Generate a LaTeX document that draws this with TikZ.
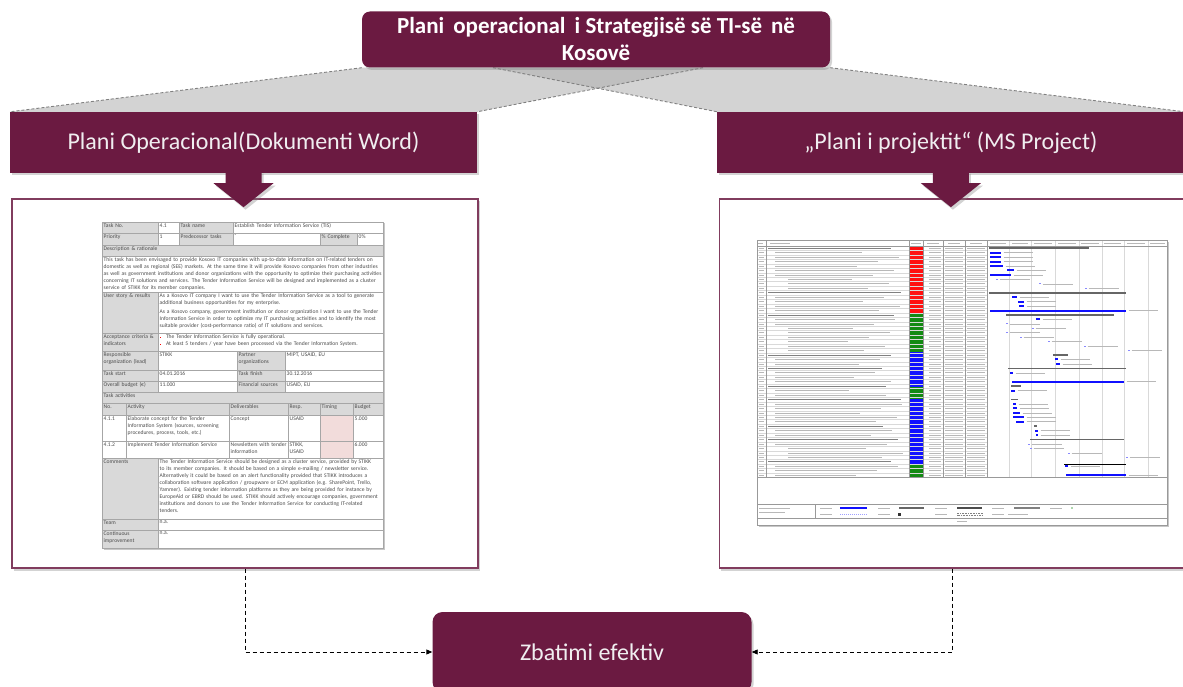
\documentclass[tikz,border=0pt]{standalone}
\usepackage{fontspec}
\setmainfont{Carlito}
\usetikzlibrary{arrows.meta,positioning,shadows,calc,backgrounds}
\hyphenpenalty=10000
\exhyphenpenalty=10000

\definecolor{plum}{HTML}{6B1A41}
\definecolor{bannertext}{HTML}{F0EEF0}
\definecolor{calloutgray}{HTML}{D3D3D3}
\definecolor{overlapgray}{HTML}{BFBFBF}
\definecolor{edgegray}{HTML}{808080}
\definecolor{tabgray}{HTML}{D9D9D9}
\definecolor{tabline}{HTML}{A6A6A6}
\definecolor{tabpink}{HTML}{F2DCDB}
\definecolor{gred}{HTML}{FF1010}
\definecolor{ggreen}{HTML}{138A13}
\definecolor{gblue}{HTML}{1010FF}

% one table cell of the Word thumbnail: x1 y1 x2 y2 fill text
\newcommand{\tcell}[6]{%
  \filldraw[fill=#5,draw=tabline,line width=0.4pt] (#1,#2) rectangle (#3,#4);
  \pgfmathsetmacro\cellw{#3-#1-3}
  \node[celltxt,text width=\cellw pt] at (#1+1.5,#2+1.4) {#6};}
\newcommand{\rbul}{\textcolor{red}{\rule[0.5pt]{1.3pt}{1.3pt}}\hspace{5pt}}

\begin{document}
\begin{tikzpicture}[
  x=1pt,y=-1pt,
  >={Triangle[length=6pt,width=5pt]},
  shade/.style={drop shadow={opacity=0.35,shadow xshift=2pt,shadow yshift=-2.5pt}},
  topbox/.style={fill=plum,rounded corners=8pt,text=white,align=center,minimum width=468pt,minimum height=56pt,inner sep=0pt,font=\fontsize{23}{27}\selectfont\bfseries,shade},
  banner/.style={fill=plum,text=bannertext,minimum width=467pt,minimum height=61pt,inner sep=0pt,font=\fontsize{24}{28}\selectfont,shade},
  docframe/.style={draw=plum!85,fill=white,line width=1.2pt,minimum width=466pt,minimum height=369pt,inner sep=0pt,shade},
  implbox/.style={fill=plum,rounded corners=10pt,text=bannertext,minimum width=319pt,minimum height=80pt,inner sep=0pt,font=\fontsize{24}{28}\selectfont,shade},
  callout/.style={fill=calloutgray},
  calloutedge/.style={draw=edgegray,line width=0.9pt,dash pattern=on 3pt off 2pt},
  blockarrow/.style={fill=plum,shade},
  flow/.style={->,draw=black,line width=0.9pt,dash pattern=on 4pt off 3pt},
  celltxt/.style={anchor=north west,inner sep=0pt,align=left,text=black!70,font=\fontsize{5.6}{7}\selectfont},
  gline/.style={draw=black!15,line width=0.25pt},
  ggrid/.style={draw=black!40,line width=0.35pt},
  gtext/.style={draw=black!28,line width=0.7pt},
  gsumtext/.style={draw=black!50,line width=0.8pt},
  gbar/.style={draw=gblue,line width=2pt},
  gsum/.style={draw=black!60,line width=1.6pt},
  glabel/.style={draw=black!28,line width=0.6pt},
]
\useasboundingbox (0,0) rectangle (1183,687);

% top: strategy and the two plans
\node[topbox] (strategy) at (596,39.5) {Plani\, operacional\, i Strategjisë së TI-së\, në\\Kosovë};
\node[banner] (wordbanner) at (243.5,142.5) {Plani Operacional(Dokumenti Word)};
\node[banner,right=240pt of wordbanner] (projbanner) {„Plani i projektit“ (MS Project)};

% gray callouts behind the banners
\begin{scope}[on background layer]
  \fill[callout] (strategy.south west) -- ([xshift=107pt]strategy.south) -- (wordbanner.north east) -- (wordbanner.north west) -- cycle;
  \fill[callout] ([xshift=-103pt]strategy.south) -- (strategy.south east) -- (projbanner.north east) -- (projbanner.north west) -- cycle;
  \fill[overlapgray] ([xshift=-103pt]strategy.south) -- ([xshift=107pt]strategy.south)
    -- (intersection of {[xshift=107pt]strategy.south}--wordbanner.north east and {[xshift=-103pt]strategy.south}--projbanner.north west) -- cycle;
  \draw[calloutedge] (strategy.south west) -- (wordbanner.north west);
  \draw[calloutedge] ([xshift=107pt]strategy.south) -- (wordbanner.north east);
  \draw[calloutedge] ([xshift=-103pt]strategy.south) -- (projbanner.north west);
  \draw[calloutedge] (strategy.south east) -- (projbanner.north east);
\end{scope}

% document thumbnails
\node[docframe] (docL) at (245,383.5) {};
\node[docframe,right=240pt of docL] (docR) {};

% Word table
\fill[black!22] (103.5,223.5) rectangle (385,550);
\tcell{102}{222}{158}{233}{tabgray}{Task No.}
\tcell{158}{222}{179}{233}{white}{4.1}
\tcell{179}{222}{233}{233}{tabgray}{Task name}
\tcell{233}{222}{383}{233}{white}{Establish Tender Information Service (TIS)}
\tcell{102}{233}{158}{245}{tabgray}{Priority}
\tcell{158}{233}{179}{245}{white}{1}
\tcell{179}{233}{233}{245}{tabgray}{Predecessor tasks}
\tcell{233}{233}{320}{245}{white}{-}
\tcell{320}{233}{357}{245}{tabgray}{\% Complete}
\tcell{357}{233}{383}{245}{white}{0\%}
\tcell{102}{245}{383}{256}{tabgray}{Description \& rationale}
\tcell{102}{256}{383}{292}{white}{This task has been envisaged to provide Kosovo IT companies with up-to-date information on IT-related tenders on domestic as well as regional (SEE) markets. At the same time it will provide Kosovo companies from other industries as well as government institutions and donor organizations with the opportunity to optimize their purchasing activities concerning IT solutions and services. The Tender Information Service will be designed and implemented as a cluster service of STIKK for its member companies.}
\tcell{102}{292}{158}{333}{tabgray}{User story \& results}
\tcell{158}{292}{383}{333}{white}{As a Kosovo IT company I want to use the Tender Information Service as a tool to generate additional business opportunities for my enterprise.\\[2.5pt]As a Kosovo company, government institution or donor organization I want to use the Tender Information Service in order to optimize my IT purchasing activities and to identify the most suitable provider (cost-performance ratio) of IT solutions and services.}
\tcell{102}{333}{158}{351}{tabgray}{Acceptance criteria \& indicators}
\tcell{158}{333}{383}{351}{white}{\rbul The Tender Information Service is fully operational.\\\rbul At least 5 tenders / year have been processed via the Tender Information System.}
\tcell{102}{351}{158}{370}{tabgray}{Responsible organization (lead)}
\tcell{158}{351}{237}{370}{white}{STIKK}
\tcell{237}{351}{285}{370}{tabgray}{Partner organizations}
\tcell{285}{351}{383}{370}{white}{MIPT, USAID, EU}
\tcell{102}{370}{158}{381}{tabgray}{Task start}
\tcell{158}{370}{237}{381}{white}{04.01.2016}
\tcell{237}{370}{285}{381}{tabgray}{Task finish}
\tcell{285}{370}{383}{381}{white}{30.12.2016}
\tcell{102}{381}{158}{392}{tabgray}{Overall budget (€)}
\tcell{158}{381}{237}{392}{white}{11.000}
\tcell{237}{381}{285}{392}{tabgray}{Financial sources}
\tcell{285}{381}{383}{392}{white}{USAID, EU}
\tcell{102}{392}{383}{403}{tabgray}{Task activities}
\tcell{102}{403}{126}{415}{tabgray}{No.}
\tcell{126}{403}{229}{415}{tabgray}{Activity}
\tcell{229}{403}{288}{415}{tabgray}{Deliverables}
\tcell{288}{403}{320}{415}{tabgray}{Resp.}
\tcell{320}{403}{353}{415}{tabgray}{Timing}
\tcell{353}{403}{383}{415}{tabgray}{Budget}
\tcell{102}{415}{126}{441}{white}{4.1.1}
\tcell{126}{415}{229}{441}{white}{Elaborate concept for the Tender Information System (sources, screening procedures, process, tools, etc.)}
\tcell{229}{415}{288}{441}{white}{Concept}
\tcell{288}{415}{320}{441}{white}{USAID}
\tcell{320}{415}{353}{441}{tabpink}{}
\tcell{353}{415}{383}{441}{white}{5.000}
\tcell{102}{441}{126}{458}{white}{4.1.2}
\tcell{126}{441}{229}{458}{white}{Implement Tender Information Service}
\tcell{229}{441}{288}{458}{white}{Newsletters with tender information}
\tcell{288}{441}{320}{458}{white}{STIKK, USAID}
\tcell{320}{441}{353}{458}{tabpink}{}
\tcell{353}{441}{383}{458}{white}{6.000}
\tcell{102}{458}{158}{519}{tabgray}{Comments}
\tcell{158}{458}{383}{519}{white}{The Tender Information Service should be designed as a cluster service, provided by STIKK to its member companies. It should be based on a simple e-mailing / newsletter service. Alternatively it could be based on an alert functionality provided that STIKK introduces a collaboration software application / groupware or ECM application (e.g. SharePoint, Trello, Yammer). Existing tender information platforms as they are being provided for instance by EuropeAid or EBRD should be used. STIKK should actively encourage companies, government institutions and donors to use the Tender Information Service for conducting IT-related tenders.}
\tcell{102}{519}{158}{530}{tabgray}{Team}
\tcell{158}{519}{383}{530}{white}{n.a.}
\tcell{102}{530}{158}{548}{tabgray}{Continuous improvement}
\tcell{158}{530}{383}{548}{white}{n.a.}

% MS Project gantt
\fill[black!22] (758.5,241.5) rectangle (1169,527);
\fill[white] (757,240) rectangle (1167,525);
\fill[gred] (909,246) rectangle (923,313);
\fill[ggreen] (909,313) rectangle (923,352);
\fill[gblue] (909,352) rectangle (923,387);
\fill[ggreen] (909,387) rectangle (923,399);
\fill[gblue] (909,399) rectangle (923,464);
\fill[ggreen] (909,464) rectangle (923,477);
\foreach \i in {1,...,51}
  \draw[gline] (757,246+\i*4.45) -- (987,246+\i*4.45);
\foreach \x in {1009,1031,1055,1079,1102,1124,1148}
  \draw[gline] (\x,240) -- (\x,477);
\foreach \x in {766,909,923,943,965,987}
  \draw[ggrid] (\x,240) -- (\x,477);
\foreach \y in {246,477,504,518}
  \draw[ggrid] (757,\y) -- (1167,\y);
\draw[ggrid] (815,504) -- (815,518);
\draw[ggrid] (757,240) rectangle (1167,525);
% header strokes
\foreach \xa/\xb in {758/763,770/790,911/921,927/939,948/960,970/982,990/1006,1012/1028,1034/1052,1058/1076,1081/1099,1104/1121,1127/1145,1150/1165}
  \draw[gtext,line width=0.6pt] (\xa,243) -- (\xb,243);
% task rows
\def\glevels{{1,2,2,2,2,2,2,3,3,3,1,2,2,2,2,1,2,2,3,3,3,3,3,3,1,2,2,1,2,2,2,1,2,2,1,2,2,2,2,2,1,2,2,1,2,3,3,3,1,2,2,2}}
\foreach \i in {1,...,52} {
  \pgfmathsetmacro\yy{246+(\i-0.5)*4.45}
  \pgfmathtruncatemacro\lvl{\glevels[\i-1]}
  \pgfmathsetmacro\xs{ifthenelse(\lvl==1,768,ifthenelse(\lvl==2,775,788))}
  \pgfmathsetmacro\xe{ifthenelse(\lvl==1,878+mod(\i*13,24),846+mod(\i*37,58))}
  \ifnum\lvl=1 \def\gstyle{gsumtext}\else\def\gstyle{gtext}\fi
  \draw[\gstyle] (\xs,\yy) -- (\xe,\yy);
  \draw[gtext] (758.5,\yy) -- (764,\yy);
  \draw[gtext] (929,\yy) -- (941,\yy);
  \draw[gtext] (945,\yy) -- (963,\yy);
  \draw[gtext] (967,\yy) -- (985,\yy);
}
% summary bars
\foreach \r/\xa/\xb in {1/989/1089,11/989/1126,16/1006/1114,25/1053/1068,28/1008/1126,32/1011/1021,35/1011/1018,41/1034/1037,44/1030/1124} {
  \pgfmathsetmacro\yy{246+(\r-0.5)*4.45}
  \draw[gsum] (\xa,\yy) -- (\xb,\yy);
}
\draw[gsum,draw=black] (1064,464.6) -- (1126,464.6);
% task bars with labels
\foreach \r/\xa/\xb in {2/990/1001,3/990/1001,4/990/1001,5/990/1003,6/1007/1014,7/990/1011,12/1012/1017,13/1018/1024,14/1019/1024,15/990/1126,17/1036/1040,26/1055/1058,27/1056/1060,29/1010/1013,31/1012/1124,33/1011/1015,36/1013/1016,37/1013/1017,38/1013/1020,39/1013/1024,40/1016/1024,42/1035/1038,43/1036/1038,50/1065/1068,52/1066/1126} {
  \pgfmathsetmacro\yy{246+(\r-0.5)*4.45}
  \pgfmathsetmacro\la{min(\xb+32,1164)}
  \draw[gbar] (\xa,\yy) -- (\xb,\yy);
  \draw[glabel] (\xb+2.5,\yy) -- (\la,\yy);
}
% milestone rows
\foreach \r/\xa in {8/998,9/1041,10/1087,18/1008,19/1034,20/1008,21/1022,22/1050,23/1086,24/1130,45/1030,46/1032,47/1070,48/1128} {
  \pgfmathsetmacro\yy{246+(\r-0.5)*4.45}
  \pgfmathsetmacro\la{min(\xa+32,1164)}
  \draw[draw=gblue!50,line width=0.8pt] (\xa-2,\yy) -- (\xa,\yy);
  \draw[glabel] (\xa+1.5,\yy) -- (\la,\yy);
}
% legend
\draw[gtext,line width=0.6pt] (759,508) -- (790,508);
\draw[gtext,line width=0.6pt] (759,512) -- (785,512);
\foreach \xa in {820,878,935,992,1050}
  \draw[gtext,line width=0.6pt] (\xa,508) -- (\xa+12,508);
\foreach \xa in {820,878,935,992}
  \draw[gtext,line width=0.6pt] (\xa,514) -- (\xa+12,514);
\draw[draw=gblue,line width=1.3pt] (840,508) -- (867,508);
\draw[draw=black!60,line width=1.5pt] (899,508) -- (924,508);
\draw[draw=black!70,line width=2pt] (957,508) -- (982,508);
\draw[draw=black!50,line width=1.5pt] (1014,508) -- (1040,508);
\fill[ggreen!70] (1072,508) circle (0.9);
\draw[draw=gblue!40,line width=0.8pt,dash pattern=on 1pt off 1pt] (840,514) -- (867,514);
\fill[black!80] (898,513) rectangle (900.5,515.5);
\draw[draw=black!50,line width=0.5pt,dash pattern=on 0.8pt off 0.8pt] (957,513) rectangle (982,515.5);
\draw[gtext,line width=0.6pt] (1008,514) -- (1028,514);
\draw[gtext,line width=0.6pt] (957,521.5) -- (967,521.5);

% down arrows from the banners
\foreach \b in {wordbanner,projbanner}
  \fill[blockarrow] ($(\b.south)+(-18,-2)$) -- ++(0,12) -- ++(-12,0) -- ($(\b.south)+(0,34)$)
    -- ($(\b.south)+(30,10)$) -- ++(-12,0) -- ++(0,-12) -- cycle;

% implementation
\node[implbox] (impl) at (592,652) {Zbatimi efektiv};
\draw[flow] (docL.south) |- (impl.west);
\draw[flow] (docR.south) |- (impl.east);

\end{tikzpicture}
\end{document}
